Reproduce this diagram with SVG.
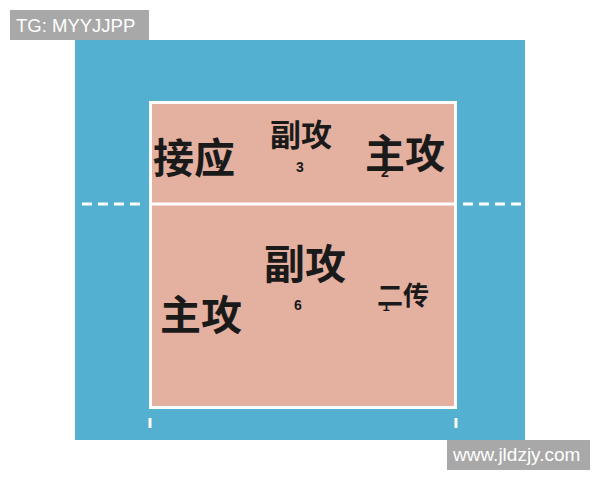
<svg xmlns="http://www.w3.org/2000/svg" width="600" height="480" viewBox="0 0 600 480">
<style>
.cn{font-family:"Noto Sans CJK SC","Noto Sans",sans-serif;fill:#1a1a1a;text-anchor:middle;font-weight:bold}
.num{font-family:"Liberation Sans",Arial,sans-serif;fill:#1a1a1a;text-anchor:middle;font-weight:bold}
.wm{font-family:"Liberation Sans",Arial,sans-serif;fill:#ffffff}
.dash{stroke:#ffffff;stroke-width:3;stroke-dasharray:10 6}
</style>
<rect width="600" height="480" fill="#ffffff"/>
<rect x="75" y="40" width="450" height="400" fill="#54b0d0"/>
<g id="court">
<rect x="150.5" y="102.5" width="305" height="305" fill="#e4b0a0" stroke="#ffffff" stroke-width="3"/>
<line x1="149" y1="204" x2="457" y2="204" stroke="#ffffff" stroke-width="3"/>
</g>
<g id="lines">
<line class="dash" x1="82" y1="204" x2="145" y2="204"/>
<line class="dash" x1="463" y1="204" x2="526" y2="204"/>
<line x1="150" y1="418" x2="150" y2="428" stroke="#ffffff" stroke-width="3"/>
<line x1="456" y1="418" x2="456" y2="428" stroke="#ffffff" stroke-width="3"/>
</g>
<g id="p4"><text class="num" x="220" y="170" font-size="14">4</text><text class="cn" x="194" y="173" font-size="41">接应</text></g>
<g id="p3"><text class="cn" x="301" y="146" font-size="31">副攻</text><text class="num" x="300" y="172" font-size="14">3</text></g>
<g id="p2"><text class="cn" x="405" y="168" font-size="40">主攻</text><text class="num" x="385" y="177" font-size="14">2</text></g>
<g id="p6"><text class="cn" x="305" y="279" font-size="41">副攻</text><text class="num" x="298" y="310" font-size="14">6</text></g>
<g id="p5"><text class="cn" x="201" y="330" font-size="41">主攻</text></g>
<g id="p1"><text class="cn" x="403" y="305" font-size="26">二传</text><text class="num" x="386" y="311" font-size="13">1</text></g>
<g id="tg"><rect x="10" y="10" width="139" height="30" fill="#a8a8a8"/><text class="wm" x="16" y="32" font-size="18.5">TG: MYYJJPP</text></g>
<g id="site"><rect x="447" y="440" width="143" height="30" fill="#a8a8a8"/><text class="wm" x="453" y="461" font-size="19">www.jldzjy.com</text></g>
</svg>
